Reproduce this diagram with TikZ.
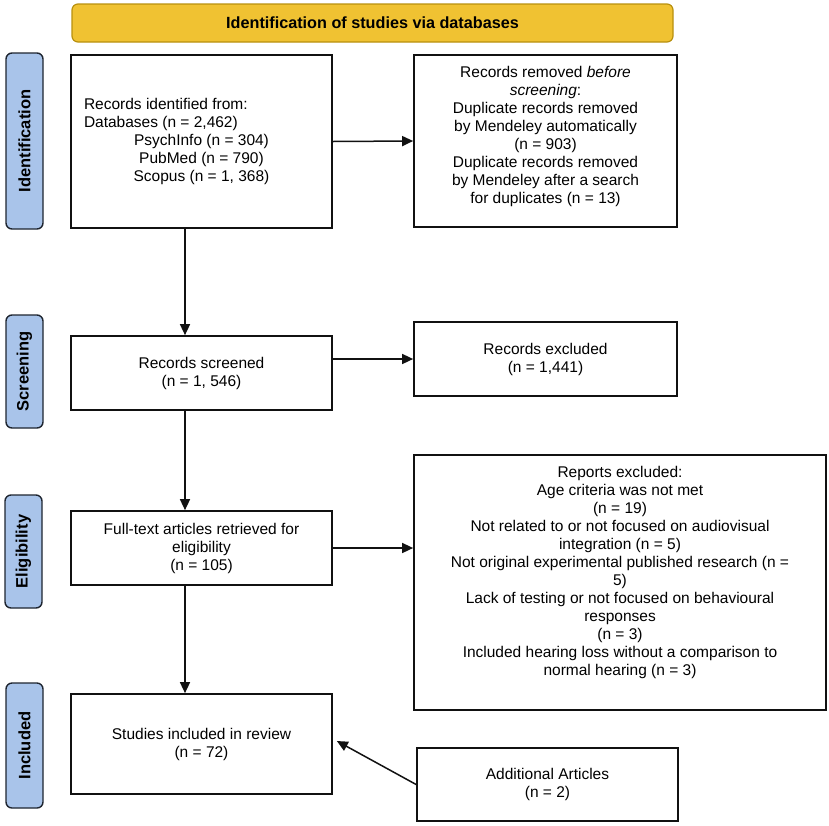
\documentclass[tikz,border=0pt]{standalone}
\usepackage{fontspec}
\setmainfont{Liberation Sans}
\usetikzlibrary{arrows.meta,calc}
\definecolor{bannerfill}{HTML}{F0C232}
\definecolor{bannerdraw}{HTML}{B8900E}
\definecolor{sidefill}{HTML}{A9C4EA}
\definecolor{sidedraw}{HTML}{1E2530}
\definecolor{ink}{HTML}{111111}
\begin{document}
\begin{tikzpicture}[x=1pt,y=-1pt,
  every node/.style={font=\fontsize{15.5}{18}\selectfont, text=black},
  box/.style={draw=ink, line width=1.7pt, rectangle, align=center, inner sep=0pt},
  banner/.style={draw=bannerdraw, fill=bannerfill, line width=1.2pt, rounded corners=6pt,
    font=\fontsize{16.2}{18}\selectfont\bfseries, inner sep=0pt},
  side/.style={draw=sidedraw, fill=sidefill, line width=1.4pt, rounded corners=6pt,
    rotate=90, font=\fontsize{16.5}{18}\selectfont\bfseries, inner sep=0pt},
  arr/.style={draw=ink, line width=1.5pt, -{Triangle[length=11pt,width=10pt]}}
]
\useasboundingbox (0,0) rectangle (829,825);

% banner
\node[banner, minimum width=601pt, minimum height=38pt] (ban) at (372.5,23) {Identification of studies via databases};

% side labels
\node[side, minimum width=176pt, minimum height=37pt] (sid) at (24.5,141) {Identification};
\node[side, minimum width=113pt, minimum height=37pt] (ssc) at (24.5,371.5) {Screening};
\node[side, minimum width=113pt, minimum height=37pt] (sel) at (23.5,551.5) {Eligibility};
\node[side, minimum width=125pt, minimum height=37pt] (sin) at (24.5,745.5) {Included};

% boxes
\node[box, minimum width=261pt, minimum height=173pt, text width=235pt, align=none, inner xsep=13pt] (ident) at (201.5,141.5)
  {\raggedright Records identified from:\\Databases (n = 2,462)\par
   \centering PsychInfo (n = 304)\\PubMed (n = 790)\\Scopus (n = 1, 368)\par};

\node[box, minimum width=263pt, minimum height=172pt] (remv) at (545.5,141)
  {Records removed \textit{before}\\ \textit{screening}:\\ Duplicate records removed\\ by Mendeley automatically\\ (n = 903)\\ Duplicate records removed\\ by Mendeley after a search\\ for duplicates (n = 13)\\[-5pt]\mbox{}};

\node[box, minimum width=261pt, minimum height=74pt] (scr) at (201.5,373)
  {Records screened\\ (n = 1, 546)};

\node[box, minimum width=263pt, minimum height=74pt] (excl) at (545.5,359)
  {Records excluded\\ (n = 1,441)};

\node[box, minimum width=261pt, minimum height=74pt] (full) at (201.5,548)
  {Full-text articles retrieved for\\ eligibility\\ (n = 105)};

\node[box, minimum width=412pt, minimum height=255pt] (rep) at (620,582.5)
  {Reports excluded:\\ Age criteria was not met\\ (n = 19)\\ Not related to or not focused on audiovisual\\ integration (n = 5)\\ Not original experimental published research (n =\\ 5)\\ Lack of testing or not focused on behavioural\\ responses\\ (n = 3)\\ Included hearing loss without a comparison to\\ normal hearing (n = 3)\\[5pt]\mbox{}};

\node[box, minimum width=261pt, minimum height=100pt] (stud) at (201.5,744)
  {Studies included in review\\ (n = 72)};

\node[box, minimum width=261pt, minimum height=73pt] (add) at (547.5,784.5)
  {Additional Articles\\ (n = 2)};

% connectors
\coordinate (ax) at (185,0);
\draw[arr] (ident.south -| ax) -- (scr.north -| ax);
\draw[arr] (scr.south -| ax) -- (full.north -| ax);
\draw[arr] (full.south -| ax) -- (stud.north -| ax);
\draw[arr] (ident.east) -- (remv.west);
\draw[arr] (scr.east |- excl.west) -- (excl.west);
\draw[arr] (full.east) -- (full.east -| rep.west);
\coordinate (studin) at ($(stud.east)+(4,-3)$);
\draw[arr] (add.west) -- (studin);
\end{tikzpicture}
\end{document}
